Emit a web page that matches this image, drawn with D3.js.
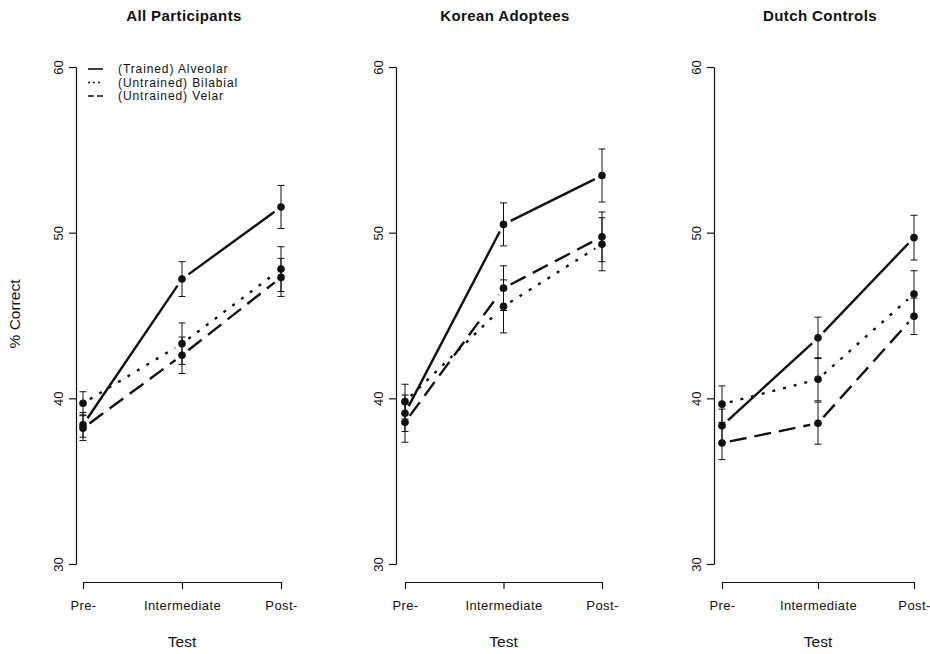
<!DOCTYPE html>
<html>
<head>
<meta charset="utf-8">
<script src="https://cdn.jsdelivr.net/npm/d3@7"></script>
<style>
  html, body { margin: 0; padding: 0; background: #fff; }
  svg { display: block; }
  text { font-family: "Liberation Sans", Arial, sans-serif; fill: #111; }
</style>
</head>
<body>
<svg id="chart" width="930" height="654"></svg>
<script>
// ---------- data ----------
const tests = ["Pre-", "Intermediate", "Post-"];
const panelTitles = ["All Participants", "Korean Adoptees", "Dutch Controls"];
const seriesNames = ["(Trained) Alveolar", "(Untrained) Bilabial", "(Untrained) Velar"];
const yTicks = [30, 40, 50, 60];

const allAlveolar = [38.4, 47.2, 51.55];
const allAlveolarErr = [0.75, 1.05, 1.3];
const allBilabial = [39.7, 43.3, 47.8];
const allBilabialErr = [0.7, 1.25, 1.35];
const allVelar = [38.2, 42.6, 47.3];
const allVelarErr = [0.75, 1.1, 1.15];

const korAlveolar = [39.1, 50.5, 53.45];
const korAlveolarErr = [1.1, 1.3, 1.6];
const korBilabial = [39.8, 45.55, 49.3];
const korBilabialErr = [1.05, 1.6, 1.6];
const korVelar = [38.55, 46.65, 49.75];
const korVelarErr = [1.2, 1.35, 1.5];

const dutAlveolar = [38.35, 43.65, 49.7];
const dutAlveolarErr = [1.0, 1.25, 1.35];
const dutBilabial = [39.65, 41.15, 46.3];
const dutBilabialErr = [1.1, 1.3, 1.4];
const dutVelar = [37.3, 38.5, 44.95];
const dutVelarErr = [1.0, 1.27, 1.1];

// ---------- layout / style ----------
const panelsData = [
  [[allAlveolar, allAlveolarErr], [allBilabial, allBilabialErr], [allVelar, allVelarErr]],
  [[korAlveolar, korAlveolarErr], [korBilabial, korBilabialErr], [korVelar, korVelarErr]],
  [[dutAlveolar, dutAlveolarErr], [dutBilabial, dutBilabialErr], [dutVelar, dutVelarErr]]
];
const layout = [
  {axisX: 76, x0: 83, x1: 281, titleX: 184},
  {axisX: 396, x0: 405, x1: 602, titleX: 505},
  {axisX: 714, x0: 722, x1: 914, titleX: 820}
];
const dashes = [null, "3,8", "17,8"];
const xAxisY = 582;
const gap = 8;

const svg = d3.select("#chart");
const y = d3.scaleLinear().domain([30, 60]).range([564, 67]);

panelsData.forEach((pdata, pi) => {
  const L = layout[pi];
  const x = d3.scalePoint().domain(tests).range([L.x0, L.x1]);
  const g = svg.append("g");

  // title
  g.append("text").attr("x", L.titleX).attr("y", 21)
    .attr("text-anchor", "middle").attr("font-size", 15).attr("font-weight", "bold")
    .attr("letter-spacing", 0.4).text(panelTitles[pi]);

  // y axis
  const ya = g.append("g").attr("transform", `translate(${L.axisX},0)`)
    .call(d3.axisLeft(y).tickValues(yTicks).tickSize(7).tickSizeOuter(0).tickFormat(d3.format("d")));
  ya.select(".domain").attr("stroke", "#111").attr("stroke-width", 1.2);
  ya.selectAll(".tick line").attr("stroke", "#111").attr("stroke-width", 1.2);
  ya.selectAll(".tick text")
    .attr("transform", "rotate(-90)").attr("x", 0).attr("y", -13).attr("dy", 0)
    .attr("text-anchor", "middle").attr("font-size", 13)
    .style("font-family", "Liberation Sans, Arial, sans-serif").style("fill", "#111");

  // x axis
  const xa = g.append("g").attr("transform", `translate(0,${xAxisY})`)
    .call(d3.axisBottom(x).tickSize(7).tickSizeOuter(0));
  xa.select(".domain").attr("stroke", "#111").attr("stroke-width", 1.2);
  xa.selectAll(".tick line").attr("stroke", "#111").attr("stroke-width", 1.2);
  xa.selectAll(".tick text").attr("y", 28).attr("dy", 0).attr("font-size", 13)
    .attr("letter-spacing", 0.4)
    .style("font-family", "Liberation Sans, Arial, sans-serif").style("fill", "#111");

  g.append("text").attr("x", (L.x0 + L.x1) / 2).attr("y", 647)
    .attr("text-anchor", "middle").attr("font-size", 15.5).text("Test");

  // error bars
  pdata.forEach(([vals, errs]) => {
    vals.forEach((v, i) => {
      const cx = x(tests[i]);
      const eb = g.append("g").attr("stroke", "#111").attr("stroke-width", 1);
      eb.append("line").attr("x1", cx).attr("x2", cx).attr("y1", y(v + errs[i])).attr("y2", y(v - errs[i]));
      [v + errs[i], v - errs[i]].forEach(e => {
        eb.append("line").attr("x1", cx - 3.5).attr("x2", cx + 3.5).attr("y1", y(e)).attr("y2", y(e));
      });
    });
  });

  // lines (type "b": gaps around points)
  pdata.forEach(([vals], si) => {
    for (let i = 0; i < vals.length - 1; i++) {
      const ax = x(tests[i]), ay = y(vals[i]);
      const bx = x(tests[i + 1]), by = y(vals[i + 1]);
      const len = Math.hypot(bx - ax, by - ay);
      const ux = (bx - ax) / len, uy = (by - ay) / len;
      g.append("line")
        .attr("x1", ax + ux * gap).attr("y1", ay + uy * gap)
        .attr("x2", bx - ux * gap).attr("y2", by - uy * gap)
        .attr("stroke", "#111").attr("stroke-width", 2.4)
        .attr("stroke-dasharray", dashes[si]);
    }
  });

  // points
  pdata.forEach(([vals]) => {
    g.selectAll(null).data(vals).enter().append("circle")
      .attr("cx", (d, i) => x(tests[i])).attr("cy", d => y(d)).attr("r", 3.8)
      .attr("fill", "#111");
  });
});

// y axis title
svg.append("text").attr("transform", "translate(20,314) rotate(-90)")
  .attr("text-anchor", "middle").attr("font-size", 15.5).text("% Correct");

// legend
const legDash = [null, "2,3", "6,3"];
const leg = svg.append("g");
seriesNames.forEach((s, i) => {
  const ly = 69 + i * 13.5;
  leg.append("line").attr("x1", 88).attr("x2", 103).attr("y1", ly).attr("y2", ly)
    .attr("stroke", "#111").attr("stroke-width", 1.6).attr("stroke-dasharray", legDash[i]);
  leg.append("text").attr("x", 118).attr("y", ly + 4).attr("font-size", 12)
    .attr("letter-spacing", 0.9).text(s);
});
</script>
</body>
</html>
